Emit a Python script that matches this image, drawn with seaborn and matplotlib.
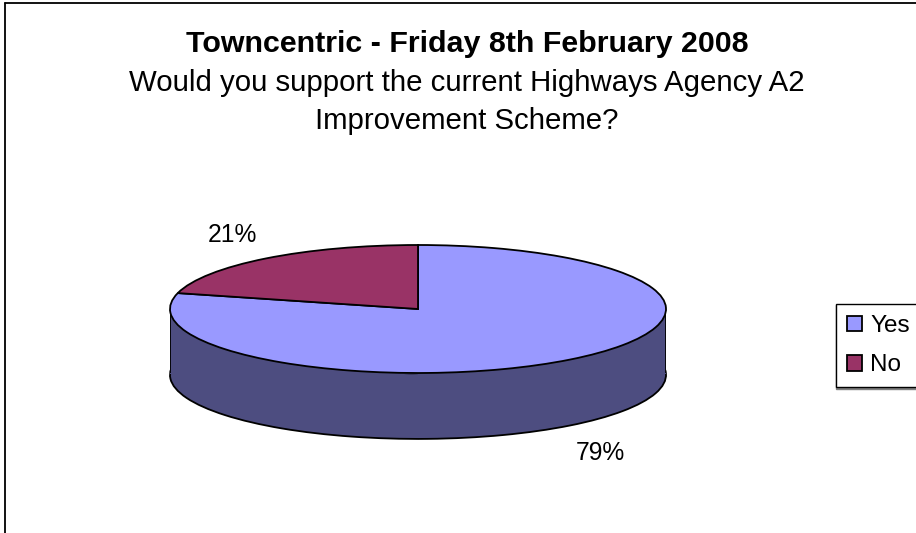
import numpy as np
import seaborn as sns
import matplotlib.pyplot as plt
from matplotlib.lines import Line2D

categories = ["Yes", "No"]
values = [79, 21]
pct_labels = ["79%", "21%"]
title_text = "Towncentric - Friday 8th February 2008"
subtitle_text = "Would you support the current Highways Agency A2\nImprovement Scheme?"

top_colors = ["#9999FF", "#993366"]
wall_colors = ["#4D4D80", "#4D1A33"]
# offset of each percent label from the middle of its slice, in pixels
label_offsets = [(30, -93), (-34, 23)]

W, H = 916, 533
DEPTH = 1.03  # wall height in units of the squashed radius

sns.set_theme(style="white")
plt.rcParams['font.family'] = ['Liberation Sans', 'DejaVu Sans']

fig = plt.figure(figsize=(W / 100, H / 100), dpi=100, facecolor="white")
ax = fig.add_axes([170 / W, (H - 373) / H, 496 / W, 128 / H])

# side of the cake: bottom disc, then the band up to the top disc
edge = {'edgecolor': 'black', 'linewidth': 1.3}
ax.pie(values, colors=wall_colors, startangle=90, counterclock=False,
       center=(0, -DEPTH), wedgeprops=edge)
cover, _ = ax.pie(values, colors=[wall_colors[0]] * len(values), startangle=90,
                  counterclock=False, center=(0, -DEPTH), radius=0.97,
                  wedgeprops={'linewidth': 0})
for w in cover:
  w.set_zorder(2)
ax.fill_between([-1, 1], -DEPTH, 0, color=wall_colors[0], linewidth=0, zorder=1.5)
ax.plot([-1, -1], [-DEPTH, 0], color='black', lw=1.3, zorder=1.6)
ax.plot([1, 1], [-DEPTH, 0], color='black', lw=1.3, zorder=1.6)

wedges, _ = ax.pie(values, colors=top_colors, startangle=90, counterclock=False,
                   wedgeprops=edge)
for w in wedges:
  w.set_zorder(3)

ax.set_aspect('auto')
ax.set_xlim(-1, 1)
ax.set_ylim(-1, 1)

for w, txt, off in zip(wedges, pct_labels, label_offsets):
  mid = np.radians((w.theta1 + w.theta2) / 2)
  ax.annotate(txt, xy=(np.cos(mid), np.sin(mid)), xytext=(off[0] * 0.72, off[1] * 0.72),
              textcoords='offset points', ha='center', va='center',
              fontsize=17.7, color='black', annotation_clip=False)

fig.text(467.5 / W, 1 - 44 / H, title_text, ha='center', va='center',
         fontsize=21.9, fontweight='bold', color='black')
fig.text(467 / W, 1 - 102 / H, subtitle_text, ha='center', va='center',
         fontsize=21.2, color='black', linespacing=1.48)

leg = ax.legend(wedges, categories, loc='upper left',
                bbox_to_anchor=(836 / W, 1 - 304 / H), bbox_transform=fig.transFigure,
                borderaxespad=0, frameon=True, fancybox=False, edgecolor='black',
                facecolor='white', framealpha=1, fontsize=17.5, labelcolor='black',
                handlelength=0.62, handleheight=0.62, handletextpad=0.33,
                labelspacing=0.72, borderpad=0.45,
                shadow={'ox': 0, 'oy': -1, 'color': '#808080', 'alpha': 1})
leg.get_frame().set_linewidth(1.0)

# chart area border, runs off the right and bottom of the image
fig.add_artist(Line2D([4.5 / W, 4.5 / W], [0, 1 - 2.5 / H], color='black', lw=1.3))
fig.add_artist(Line2D([4.5 / W, 1], [1 - 2.5 / H, 1 - 2.5 / H], color='black', lw=1.3))

plt.savefig('out.png', dpi=100)
plt.close()
